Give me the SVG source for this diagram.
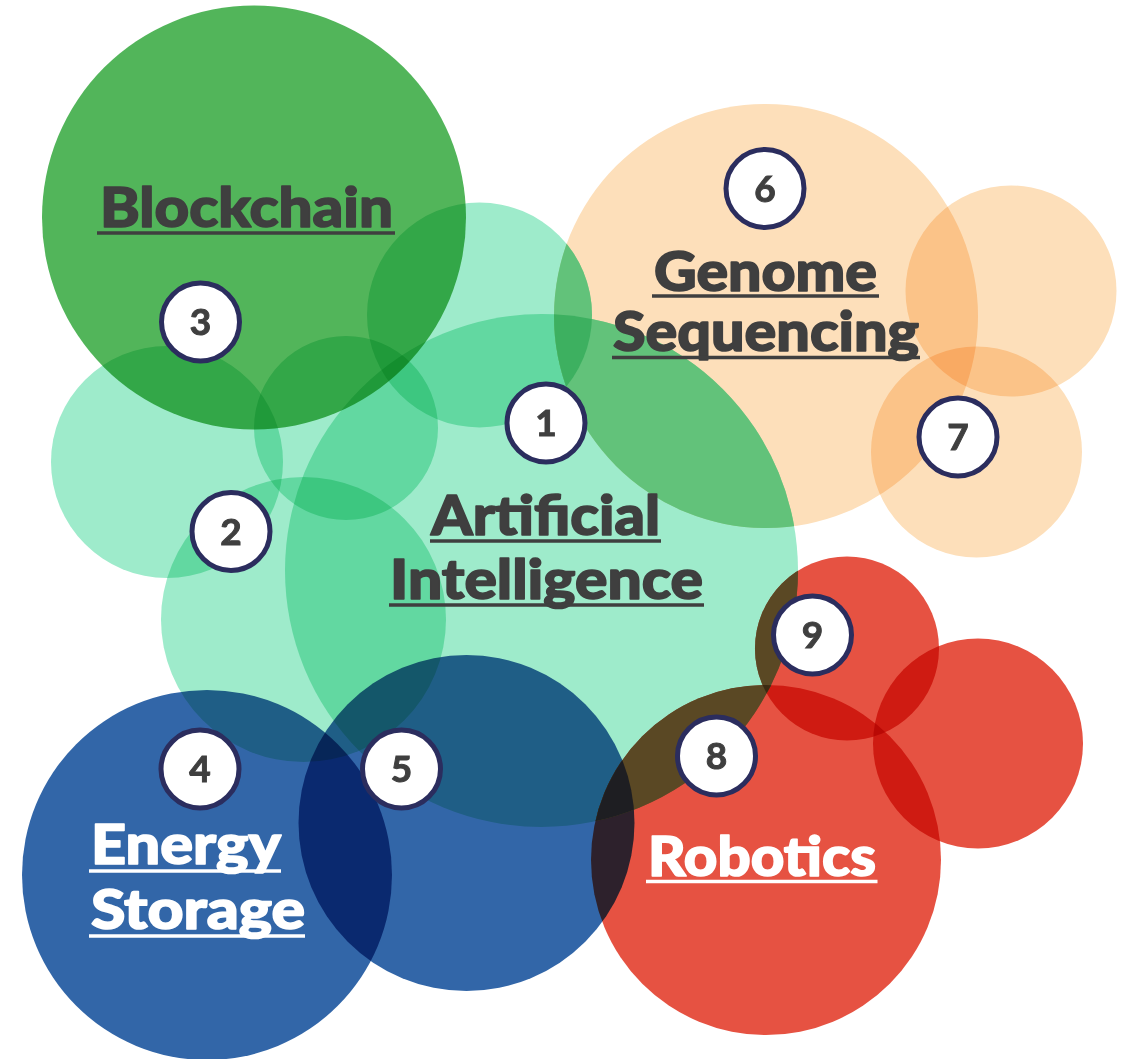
<svg xmlns="http://www.w3.org/2000/svg" width="1127" height="1059" viewBox="0 0 1127 1059">
<defs>
<style>
.m { mix-blend-mode: multiply; }
.mint { fill: #9EEBCB; }
.bc { fill: #52B55A; }
.org { fill: #FDDFBA; }
.blu { fill: #3266A8; }
.red { fill: #E65242; }
.badge circle { fill: #FFFFFF; stroke: #2B2D5E; stroke-width: 5; }
.badge text { font-family: Lato, "Liberation Sans", sans-serif; font-weight: 700; font-size: 37px; fill: #3F3F3F; stroke: #3F3F3F; stroke-width: 1; text-anchor: middle; }
.lbl { font-family: Lato, "Liberation Sans", sans-serif; font-weight: 900; font-size: 56px; stroke-width: 1.6; stroke-linejoin: round; }
.dark { fill: #3F3F3F; stroke: #3F3F3F; }
.light { fill: #FFFFFF; stroke: #FFFFFF; }
.uld { stroke: #3F3F3F; stroke-width: 3.5; }
.ull { stroke: #FFFFFF; stroke-width: 3.5; }
</style>
<clipPath id="cGenome"><circle cx="766" cy="316" r="212"/></clipPath>
<clipPath id="cAI"><circle cx="541.5" cy="570.5" r="256.5"/></clipPath>
<clipPath id="cA"><circle cx="479.5" cy="315" r="112.5"/></clipPath>
<clipPath id="cRob"><circle cx="766" cy="860" r="175"/></clipPath>
<clipPath id="cR9"><circle cx="847" cy="648.5" r="92"/></clipPath>
</defs>
<rect x="0" y="0" width="1127" height="1059" fill="#FFFFFF"/>
<g id="circles">
  <g id="node-blockchain">
    <circle class="bc m" cx="254" cy="217.5" r="212"/>
  </g>
  <g id="node-ai">
    <circle class="mint m" cx="479.5" cy="315" r="112.5"/>
    <circle class="mint m" cx="167" cy="462" r="116"/>
    <circle class="mint m" cx="346" cy="428" r="92"/>
    <circle class="mint m" cx="303.5" cy="619.5" r="142.5"/>
    <circle class="mint m" cx="541.5" cy="570.5" r="256.5"/>
  </g>
  <g id="node-genome">
    <circle class="org m" cx="766" cy="316" r="212"/>
    <circle class="org m" cx="1011" cy="291" r="105.5"/>
    <circle class="org m" cx="976.5" cy="452" r="105.5"/>
  </g>
  <g id="node-energy">
    <circle class="blu m" cx="207" cy="875" r="185"/>
    <circle class="blu m" cx="466.5" cy="823" r="168"/>
  </g>
  <g id="node-robotics">
    <circle class="red m" cx="766" cy="860" r="175"/>
    <circle class="red m" cx="847" cy="648.5" r="92"/>
    <circle class="red m" cx="978" cy="743.5" r="105"/>
  </g>
</g>
<g id="overlaps">
  <g clip-path="url(#cGenome)">
    <circle cx="541.5" cy="570.5" r="256.5" fill="#62C27A"/>
    <circle cx="479.5" cy="315" r="112.5" fill="#62C27A"/>
  </g>
  <g clip-path="url(#cGenome)">
    <circle cx="479.5" cy="315" r="112.5" fill="#3DB060" clip-path="url(#cAI)"/>
  </g>
  <g clip-path="url(#cAI)">
    <circle cx="766" cy="860" r="175" fill="#5A4824"/>
    <circle cx="847" cy="648.5" r="92" fill="#5A4824"/>
  </g>
  <g clip-path="url(#cAI)">
    <circle cx="847" cy="648.5" r="92" fill="#3C2A12" clip-path="url(#cRob)"/>
  </g>
  <g clip-path="url(#cAI)">
    <circle cx="466.5" cy="823" r="168" fill="#1E1E22" clip-path="url(#cRob)"/>
  </g>
</g>
<g id="labels">
  <g id="label-blockchain">
    <text class="lbl dark" x="100" y="227" textLength="293" lengthAdjust="spacingAndGlyphs">Blockchain</text>
    <line class="uld" x1="97" y1="233" x2="395" y2="233"/>
  </g>
  <g id="label-genome">
    <text class="lbl dark" x="654" y="290.5" textLength="223" lengthAdjust="spacingAndGlyphs">Genome</text>
    <line class="uld" x1="652" y1="296" x2="879" y2="296"/>
    <text class="lbl dark" x="613" y="351" textLength="306" lengthAdjust="spacingAndGlyphs">Sequencing</text>
    <line class="uld" x1="612" y1="357.5" x2="920" y2="357.5"/>
  </g>
  <g id="label-ai">
    <text class="lbl dark" x="431" y="534.5" textLength="229" lengthAdjust="spacingAndGlyphs">Artificial</text>
    <line class="uld" x1="430" y1="541" x2="661" y2="541"/>
    <text class="lbl dark" x="390" y="598.5" textLength="313" lengthAdjust="spacingAndGlyphs">Intelligence</text>
    <line class="uld" x1="389" y1="605" x2="704" y2="605"/>
  </g>
  <g id="label-energy">
    <text class="lbl light" x="91" y="864" textLength="190" lengthAdjust="spacingAndGlyphs">Energy</text>
    <line class="ull" x1="89" y1="871" x2="281" y2="871"/>
    <text class="lbl light" x="91" y="929" textLength="214" lengthAdjust="spacingAndGlyphs">Storage</text>
    <line class="ull" x1="89" y1="936" x2="305" y2="936"/>
  </g>
  <g id="label-robotics">
    <text class="lbl light" x="648" y="876" textLength="228" lengthAdjust="spacingAndGlyphs">Robotics</text>
    <line class="ull" x1="646" y1="881.5" x2="877.5" y2="881.5"/>
  </g>
</g>
<g id="badges">
  <g id="badge-1" class="badge"><circle cx="546" cy="423" r="39"/><text x="546" y="436">1</text></g>
  <g id="badge-2" class="badge"><circle cx="231" cy="531.5" r="39"/><text x="231" y="544.5">2</text></g>
  <g id="badge-3" class="badge"><circle cx="200.5" cy="322" r="39"/><text x="200.5" y="335">3</text></g>
  <g id="badge-4" class="badge"><circle cx="200" cy="769" r="39"/><text x="200" y="782">4</text></g>
  <g id="badge-5" class="badge"><circle cx="401.5" cy="769" r="39"/><text x="401.5" y="782">5</text></g>
  <g id="badge-6" class="badge"><circle cx="765" cy="188.5" r="39"/><text x="765" y="201.5">6</text></g>
  <g id="badge-7" class="badge"><circle cx="958" cy="437" r="39"/><text x="958" y="450">7</text></g>
  <g id="badge-8" class="badge"><circle cx="716.5" cy="756" r="39"/><text x="716.5" y="769">8</text></g>
  <g id="badge-9" class="badge"><circle cx="812.5" cy="635" r="39"/><text x="812.5" y="648">9</text></g>
</g>
</svg>
